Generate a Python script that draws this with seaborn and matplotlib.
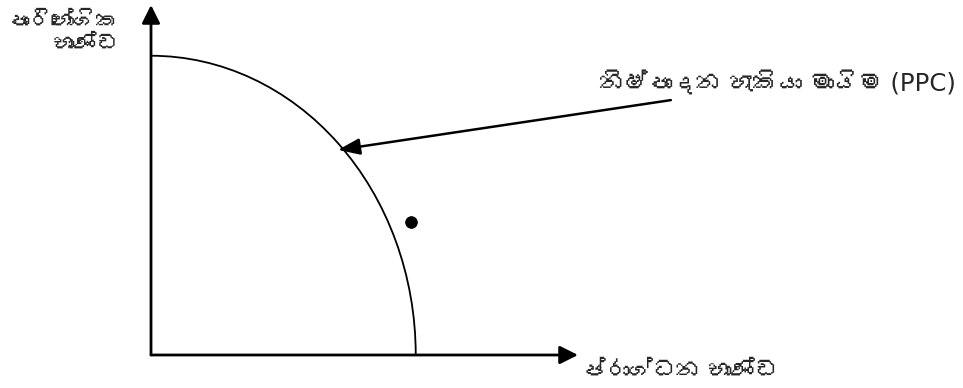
import matplotlib
matplotlib.use("Agg")
import matplotlib.pyplot as plt
from matplotlib import font_manager as fm
from matplotlib.ft2font import FT2Font
from matplotlib.patches import Arc
import seaborn as sns

# Chart values (axes run 0..10 in both directions)
axis_max = [10.0, 10.0]
ppc_intercepts = [6.2, 8.55]        # x and y intercepts of the PPC curve
inside_point = [6.1, 3.8]           # the dot outside the curve
ppc_arrow_target = [4.38, 5.86]     # where the label arrow touches the curve
ppc_label_pos = [10.5, 7.74]

ppc_label = "නිෂ්පාදන හැකියා මායිම (PPC)"
y_label = "පාරිභෝගික\nභාණ්ඩ"
x_label = "ප්රාග්ධන භාණ්ඩ"


def find_sinhala_font():
    # look for any installed font that has Sinhala glyphs
    for f in fm.fontManager.ttflist:
        try:
            if 0x0DB4 in FT2Font(f.fname).get_charmap():
                return f.name
        except Exception:
            continue
    return None


sns.set_theme(style="white")
sinhala = find_sinhala_font()
# latin from DejaVu, sinhala falls through to the other family
families = ["DejaVu Sans", sinhala] if sinhala else ["DejaVu Sans"]
plt.rcParams["font.family"] = families

fig = plt.figure(figsize=(9.63, 3.88), dpi=100)
ax = fig.add_axes([151 / 963, 33 / 388, 427 / 963, 350 / 388])
ax.set_xlim(0, axis_max[0])
ax.set_ylim(0, axis_max[1])
ax.axis("off")

# Axes with arrow heads
axis_arrow = dict(arrowstyle="-|>,head_length=1.0,head_width=0.5",
                  mutation_scale=11, color="black", lw=2.0,
                  shrinkA=0, shrinkB=0)
ax.annotate("", xy=(axis_max[0], 0), xytext=(0, 0),
            arrowprops=axis_arrow, annotation_clip=False)
ax.annotate("", xy=(0, axis_max[1]), xytext=(0, 0),
            arrowprops=axis_arrow, annotation_clip=False)

# PPC curve
ax.add_patch(Arc((0, 0), 2 * ppc_intercepts[0], 2 * ppc_intercepts[1],
                 theta1=0, theta2=90, color="black", lw=1.3))

# point beyond the curve
sns.scatterplot(x=[inside_point[0]], y=[inside_point[1]], ax=ax,
                s=70, color="black", edgecolor="black", legend=False)

# label with arrow pointing to the curve
ax.annotate(ppc_label, xy=tuple(ppc_arrow_target), xytext=tuple(ppc_label_pos),
            fontsize=17.6, ha="left", va="center", annotation_clip=False,
            arrowprops=dict(arrowstyle="-|>,head_length=1.2,head_width=0.45",
                            mutation_scale=11, color="black", lw=1.8,
                            shrinkA=1, shrinkB=0))

# axis titles
ax.text(-0.75, 9.2, y_label, fontsize=16, ha="right", va="center",
        linespacing=1.15)
ax.text(10.09, -0.46, x_label, fontsize=17, ha="left", va="center")

fig.savefig("out.png", dpi=100, facecolor="white")
